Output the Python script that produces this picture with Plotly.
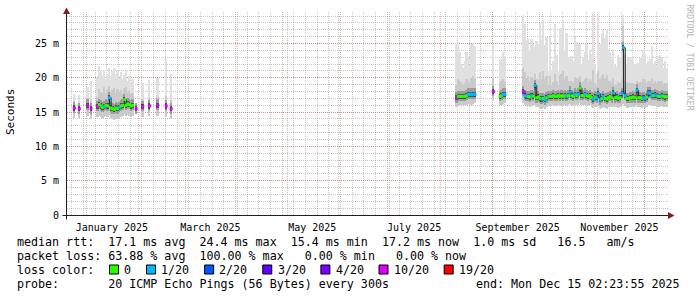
import plotly.graph_objects as go
from datetime import date, timedelta

# ---------------- data ----------------
# runs of consecutive daily buckets: (first day, number of days)
runs = [
    ("2024-12-24", 1), ("2024-12-27", 1), ("2025-01-01", 1), ("2025-01-03", 1),
    ("2025-01-07", 22), ("2025-01-30", 1), ("2025-02-03", 1), ("2025-02-07", 1),
    ("2025-02-12", 1), ("2025-02-17", 1), ("2025-02-20", 1),
    ("2025-08-10", 12), ("2025-09-01", 1), ("2025-09-05", 4), ("2025-09-19", 87),
]

median_ms = [
    15.6, 15.5, 16.0, 15.5,
    15.8, 16.1, 15.9, 15.7, 15.8, 16.0, 15.9, 17.1, 15.6, 15.5, 15.4, 15.6, 15.5, 15.7, 15.9, 16.0, 16.8, 16.0, 16.2, 16.1, 15.9, 16.0,
    15.5, 15.8, 15.9, 16.0, 15.9, 15.5,
    17.1, 17.3, 17.3, 17.3, 17.3, 17.3, 17.4, 17.6, 17.6, 17.6, 17.6, 17.6,
    18.0,
    17.3, 17.4, 17.6, 17.6,
    18.0, 17.4, 17.3, 17.3, 17.2, 17.4, 17.3, 18.9, 17.1, 17.2, 17.0, 16.9,
    17.0, 16.8, 17.1, 17.3, 17.3, 17.3, 17.4, 17.3, 17.3, 17.4, 17.3, 17.4, 17.3, 17.4, 17.3, 17.4,
    17.9, 17.4, 17.3, 17.6, 17.4, 17.6, 18.5, 17.4, 17.4, 17.6, 17.4, 17.3, 17.4, 17.1, 16.9,
    17.2, 17.1, 17.7, 16.8, 17.0, 17.3, 17.0, 16.9, 17.1, 17.3, 17.1, 17.8, 17.1, 17.2, 17.0,
    17.1, 17.7, 24.4, 17.4, 17.0, 17.0, 17.1, 17.1, 17.2, 17.1, 18.2, 17.1, 17.1, 17.0, 17.1,
    17.0, 17.2, 17.8, 17.8, 17.4, 17.4, 17.5, 17.4, 17.3, 17.3, 17.4, 17.3, 17.2, 17.3,
]

loss_of_20 = [
    10, 10, 10, 10,
    10, 0, 0, 0, 1, 0, 0, 1, 0, 0, 0, 0, 0, 1, 0, 0, 0, 0, 0, 0, 0, 0,
    10, 10, 10, 10, 10, 10,
    10, 0, 0, 0, 0, 0, 0, 1, 1, 1, 1, 1,
    10,
    0, 0, 1, 1,
    10, 1, 1, 0, 0, 1, 0, 1, 0, 0, 0, 1,
    0, 1, 0, 1, 0, 0, 0, 0, 0, 0, 0, 0, 0, 0, 1, 0,
    1, 0, 0, 1, 0, 1, 0, 0, 0, 1, 0, 0, 0, 0, 1,
    0, 1, 1, 1, 0, 1, 0, 0, 0, 0, 0, 1, 0, 0, 0,
    0, 1, 1, 1, 0, 0, 0, 0, 0, 0, 1, 0, 0, 0, 1,
    1, 0, 1, 1, 1, 0, 1, 1, 0, 0, 1, 0, 0, 0,
]

max_ms = [
    17.7, 17.5, 18.6, 19.6,
    20.0, 21.7, 21.2, 20.4, 21.0, 19.8, 20.6, 21.5, 20.2, 21.0, 21.4, 20.6, 21.2, 20.0, 20.8, 19.8, 20.4, 21.0, 19.6, 20.2, 19.4, 19.8,
    16.4, 19.2, 19.7, 20.0, 22.7, 20.5,
    25.1, 24.8, 23.7, 22.0, 21.5, 22.4, 23.7, 23.0, 21.8, 25.0, 25.1, 24.6,
    25.0,
    22.7, 22.7, 23.7, 23.2,
    29.2, 27.8, 25.5, 25.6, 24.0, 25.6, 25.0, 24.5, 25.4, 25.0, 28.0, 25.6,
    28.5, 24.8, 26.0, 21.0, 25.9, 21.2, 22.5, 27.8, 23.4, 21.0, 27.0, 27.2, 28.5, 24.0, 26.6, 23.0,
    22.7, 23.2, 22.5, 26.0, 25.2, 24.9, 25.0, 22.0, 23.0, 23.8, 24.9, 22.6, 24.0, 23.5, 29.4,
    22.0, 20.5, 29.2, 25.0, 26.5, 27.0, 25.8, 27.0, 24.0, 23.7, 22.7, 24.2, 21.8, 21.6, 23.3,
    23.0, 23.6, 29.2, 23.5, 22.0, 23.0, 22.9, 22.8, 22.5, 22.0, 22.0, 22.2, 22.9, 23.0, 24.1,
    23.5, 22.0, 22.4, 22.8, 24.6, 22.0, 22.4, 21.9, 23.2, 23.4, 23.0, 21.4, 22.5, 21.5,
]

upper_ms = [
    16.6, 16.4, 17.0, 16.8,
    17.2, 18.4, 18.0, 17.8, 18.6, 17.6, 18.2, 18.8, 17.9, 18.3, 18.5, 17.8, 18.4, 18.0, 18.2, 17.7, 18.5, 18.6, 18.0, 18.1, 17.6, 17.8,
    16.0, 16.9, 17.0, 17.2, 17.4, 16.8,
    19.0, 19.8, 19.6, 19.2, 19.0, 19.3, 19.8, 19.6, 19.2, 20.0, 20.2, 19.8,
    20.0,
    19.2, 19.5, 19.8, 19.4,
    21.5, 20.8, 20.0, 20.2, 19.6, 20.1, 19.9, 20.5, 19.8, 19.7, 20.8, 19.9,
    21.0, 19.8, 20.3, 18.9, 20.2, 19.0, 19.4, 20.6, 19.6, 19.0, 20.4, 20.5, 21.0, 19.8, 20.3, 19.5,
    19.6, 19.5, 19.3, 20.1, 20.0, 19.9, 20.3, 19.2, 19.5, 19.8, 20.0, 19.4, 19.8, 19.6, 21.2,
    19.3, 18.8, 21.0, 19.8, 20.2, 20.6, 20.0, 20.4, 19.6, 19.6, 19.3, 20.0, 19.0, 18.9, 19.4,
    19.3, 19.8, 27.5, 19.6, 19.1, 19.4, 19.3, 19.3, 19.2, 19.1, 19.6, 19.2, 19.4, 19.4, 19.8,
    19.7, 19.2, 19.5, 19.6, 20.0, 19.3, 19.5, 19.3, 19.5, 19.6, 19.5, 19.1, 19.3, 19.2,
]

min_ms = [
    14.2, 14.1, 14.4, 14.0,
    14.3, 14.5, 14.3, 14.2, 14.3, 14.4, 14.3, 14.6, 14.1, 14.0, 13.9, 14.1, 14.0, 14.2, 14.3, 14.4, 14.8, 14.4, 14.6, 14.5, 14.3, 14.4,
    14.7, 14.3, 14.4, 14.5, 14.3, 14.0,
    15.8, 15.9, 16.0, 16.0, 16.1, 16.0, 16.1, 16.2, 16.2, 16.1, 16.2, 16.3,
    16.6,
    16.0, 16.1, 16.2, 16.3,
    16.4, 16.0, 15.9, 15.9, 15.8, 16.0, 15.9, 16.1, 15.7, 15.8, 15.6, 15.5,
    15.6, 15.4, 15.7, 15.9, 15.9, 16.0, 16.0, 15.9, 15.9, 16.0, 15.9, 16.0, 15.9, 16.0, 15.9, 16.0,
    16.2, 16.0, 15.9, 16.1, 16.0, 16.1, 16.3, 16.0, 16.0, 16.1, 16.0, 15.9, 16.0, 15.8, 15.6,
    15.8, 15.7, 15.9, 15.4, 15.6, 15.8, 15.6, 15.5, 15.7, 15.8, 15.7, 16.1, 15.7, 15.8, 15.6,
    15.7, 16.0, 16.2, 15.9, 15.6, 15.6, 15.7, 15.7, 15.8, 15.7, 16.0, 15.7, 15.7, 15.6, 15.7,
    15.6, 15.8, 16.1, 16.1, 15.9, 15.9, 16.0, 15.9, 15.8, 15.8, 15.9, 15.8, 15.7, 15.8,
]

loss_levels = [0, 1, 2, 3, 4, 10, 19]
loss_labels = ["0", "1/20", "2/20", "3/20", "4/20", "10/20", "19/20"]
loss_colors = ["#26ff00", "#00b8ff", "#0059ff", "#5e00ff", "#7e00ff", "#dd00ff", "#ff0000"]

y_tick_vals = [0, 5, 10, 15, 20, 25]
y_tick_text = ["0", "5 m", "10 m", "15 m", "20 m", "25 m"]
x_label_dates = ["2025-01-16", "2025-03-16", "2025-05-16", "2025-07-16", "2025-09-16", "2025-11-16"]
x_label_text = ["January 2025", "March 2025", "May 2025", "July 2025", "September 2025", "November 2025"]

range_start = "2024-12-20 02:23:55"
range_end = "2025-12-15 02:23:55"

legend_lines = [
    "median rtt:  17.1 ms avg  24.4 ms max  15.4 ms min  17.2 ms now  1.0 ms sd   16.5   am/s",
    "packet loss: 63.88 % avg  100.00 % max   0.00 % min   0.00 % now",
    "loss color:",
    "probe:       20 ICMP Echo Pings (56 Bytes) every 300s",
]
end_text = "end: Mon Dec 15 02:23:55 2025"

# ---------------- build ----------------
days = []
for start, n in runs:
    d0 = date.fromisoformat(start)
    for k in range(n):
        days.append((d0 + timedelta(days=k)).isoformat() + " 12:00")
N = len(days)
assert all(len(a) == N for a in (median_ms, loss_of_20, max_ms, upper_ms, min_ms)), N

W, H = 697, 297
PL, PR, PT, PB = 67, 668, 12, 215
MONO = "DejaVu Sans Mono"
CW = 7.03  # char width at legend font size
DAY_MS = 86400000


def px_x(px):
    return (px - PL) / (PR - PL)


def px_y(py):
    return (PB - py) / (PB - PT)


def loss_color(n):
    c = loss_colors[0]
    for lv, col in zip(loss_levels, loss_colors):
        if n >= lv:
            c = col
    return c


fig = go.Figure()


def smoke(base, top, color):
    fig.add_trace(go.Bar(
        x=days, base=base, y=[t - b for t, b in zip(top, base)],
        width=DAY_MS * 1.05, marker=dict(color=color, line=dict(width=0)),
        hoverinfo="skip", showlegend=False, xaxis="x", yaxis="y"))


smoke(min_ms, max_ms, "#e0e0e0")
smoke(min_ms, upper_ms, "#cacaca")
smoke([m - 0.7 for m in median_ms], [m + 0.85 for m in median_ms], "#9c9c9c")
smoke([m - 0.38 for m in median_ms], [m + 0.38 for m in median_ms], "#4c4c4c")

# connector line for median with gaps where buckets are missing
cx, cy = [], []
prev = None
for d, m in zip(days, median_ms):
    dd = date.fromisoformat(d[:10])
    if prev is not None and (dd - prev).days > 1:
        cx.append(None)
        cy.append(None)
    cx.append(d)
    cy.append(m)
    prev = dd
fig.add_trace(go.Scatter(x=cx, y=cy, mode="lines", line=dict(color="#202020", width=1, shape="hv"),
                         connectgaps=False, hoverinfo="skip", showlegend=False, xaxis="x2", yaxis="y"))
fig.add_trace(go.Scatter(x=days, y=median_ms, mode="markers",
                         marker=dict(symbol="square", size=3, color=[loss_color(v) for v in loss_of_20],
                                     line=dict(width=0)),
                         hoverinfo="skip", showlegend=False, xaxis="x2", yaxis="y"))

GRID = "rgba(143,143,143,0.5)"
MGRID = "rgba(222,79,79,0.45)"
DASH = "1px,1px"

annotations = []
shapes = []

# axis lines & arrows
AXC = "#1f1f1f"
ARC = "#801f1f"
shapes.append(dict(type="line", xref="paper", yref="paper", x0=px_x(62.5), x1=px_x(669), y0=px_y(215.5), y1=px_y(215.5),
                   line=dict(color=AXC, width=1)))
shapes.append(dict(type="line", xref="paper", yref="paper", x0=px_x(66.5), x1=px_x(66.5), y0=px_y(219.5), y1=px_y(12),
                   line=dict(color=AXC, width=1)))
shapes.append(dict(type="path", xref="paper", yref="paper",
                   path=f"M {px_x(668)},{px_y(212)} L {px_x(674.5)},{px_y(215.5)} L {px_x(668)},{px_y(219)} Z",
                   fillcolor=ARC, line=dict(width=0)))
shapes.append(dict(type="path", xref="paper", yref="paper",
                   path=f"M {px_x(63)},{px_y(14)} L {px_x(66.5)},{px_y(7.5)} L {px_x(70)},{px_y(14)} Z",
                   fillcolor=ARC, line=dict(width=0)))

# y title
annotations.append(dict(text="Seconds", xref="paper", yref="paper", x=px_x(11), y=px_y(112), textangle=-90,
                        showarrow=False, xanchor="center", yanchor="middle",
                        font=dict(family=MONO, size=11, color="#000")))
# watermark
annotations.append(dict(text="RRDTOOL / TOBI OETIKER", xref="paper", yref="paper", x=px_x(688.5), y=px_y(57),
                        textangle=90, showarrow=False, xanchor="center", yanchor="middle",
                        font=dict(family=MONO, size=8, color="#b4b4b4")))

# legend text lines
line_y = [241.5, 255.5, 269.5, 283.5]
for txt, yy in zip(legend_lines, line_y):
    annotations.append(dict(text=txt.replace(" ", "&nbsp;"), xref="paper", yref="paper", x=px_x(16), y=px_y(yy),
                            showarrow=False, xanchor="left", yanchor="middle", borderpad=0,
                            font=dict(family=MONO, size=11.67, color="#000")))
annotations.append(dict(text=end_text.replace(" ", "&nbsp;"), xref="paper", yref="paper", x=px_x(680.5), y=px_y(283.5),
                        showarrow=False, xanchor="right", yanchor="middle", borderpad=0,
                        font=dict(family=MONO, size=11.67, color="#000")))

# loss colour boxes
bx = 109.0
for lab, col in zip(loss_labels, loss_colors):
    shapes.append(dict(type="rect", xref="paper", yref="paper", x0=px_x(bx + 0.5), x1=px_x(bx + 9.5),
                       y0=px_y(265), y1=px_y(274), fillcolor=col, line=dict(color="#000", width=1)))
    tx = bx + 14.3
    annotations.append(dict(text=lab, xref="paper", yref="paper", x=px_x(tx), y=px_y(269.5),
                            showarrow=False, xanchor="left", yanchor="middle", borderpad=0,
                            font=dict(family=MONO, size=11.67, color="#000")))
    bx = tx + len(lab) * CW + 15.7

fig.update_layout(
    width=W, height=H,
    margin=dict(l=PL, r=W - PR, t=PT, b=H - PB, pad=0),
    paper_bgcolor="white", plot_bgcolor="white",
    barmode="overlay", bargap=0, showlegend=False,
    font=dict(family=MONO, size=10, color="#000"),
    xaxis=dict(type="date", range=[range_start, range_end], tickmode="array", tickvals=x_label_dates,
               ticktext=x_label_text, showgrid=False, zeroline=False, showline=False,
               ticks="outside", ticklen=3, tickcolor="rgba(0,0,0,0)", tickfont=dict(family=MONO, size=10),
               minor=dict(tickmode="linear", tick0="2025-01-06", dtick=7 * DAY_MS, showgrid=True,
                          gridcolor=GRID, griddash=DASH, gridwidth=1, ticks="")),
    xaxis2=dict(type="date", range=[range_start, range_end], overlaying="x", anchor="y",
                tickmode="linear", tick0="2025-01-01", dtick="M1", showticklabels=False, ticks="",
                showgrid=True, gridcolor=MGRID, griddash=DASH, gridwidth=1, zeroline=False, showline=False),
    yaxis=dict(range=[0, 29.6], tickmode="array", tickvals=y_tick_vals, ticktext=y_tick_text,
               showgrid=True, gridcolor=MGRID, griddash=DASH, gridwidth=1, zeroline=False, showline=False,
               ticks="outside", ticklen=5, tickcolor="rgba(0,0,0,0)", tickfont=dict(family=MONO, size=10),
               minor=dict(dtick=1, showgrid=True, gridcolor=GRID, griddash=DASH, gridwidth=1, ticks="")),
    annotations=annotations, shapes=shapes,
)

fig.write_html("out.html")
